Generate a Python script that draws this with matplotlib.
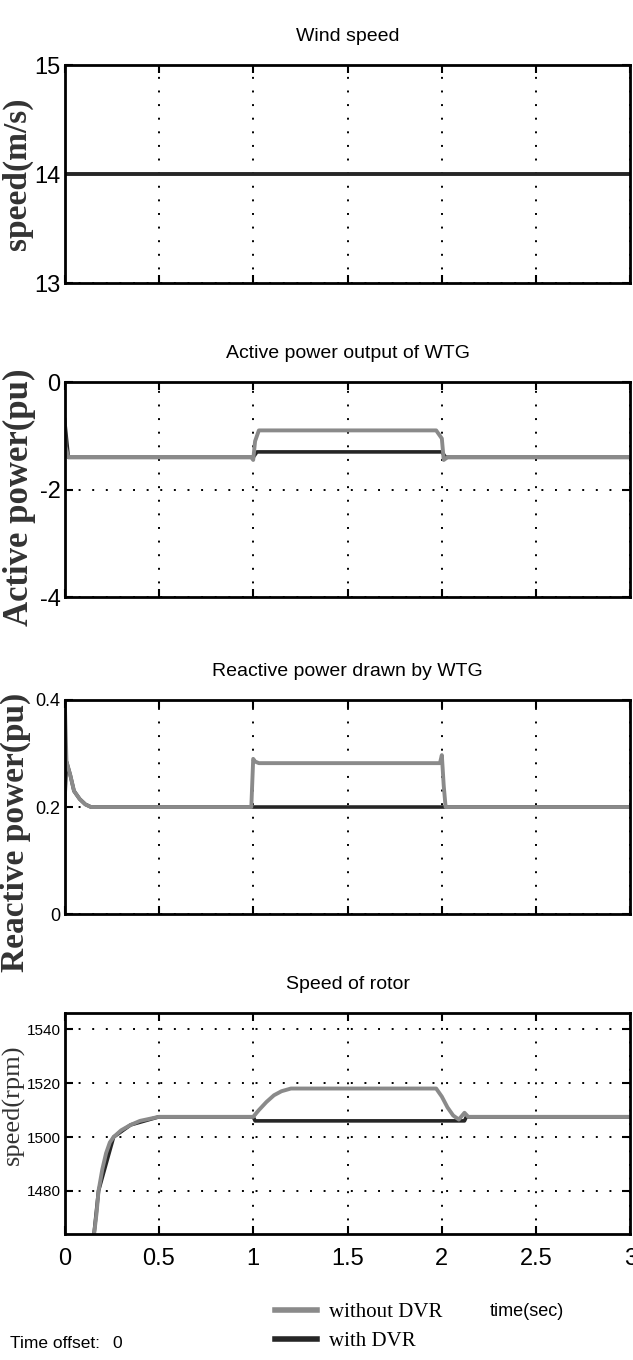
import matplotlib
matplotlib.use('Agg')
import matplotlib.pyplot as plt
from matplotlib.lines import Line2D

# wind speed (m/s)
t_wind = [0, 3]
wind = [14, 14]

# active power output of WTG (pu)
t_p_without = [0, 0.005, 0.02, 0.99, 1.0, 1.01, 1.03, 1.97, 2.0, 2.01, 2.03, 3]
p_without = [-0.7, -1.2, -1.4, -1.4, -1.45, -1.1, -0.9, -0.9, -1.05, -1.45, -1.4, -1.4]
t_p_with = [0, 0.02, 1.0, 1.02, 2.0, 2.02, 3]
p_with = [-0.7, -1.4, -1.4, -1.3, -1.3, -1.4, -1.4]

# reactive power drawn by WTG (pu)
t_q_without = [0, 0.001, 0.01, 0.03, 0.05, 0.08, 0.11, 0.14, 0.99, 1.0, 1.01,
               1.03, 1.99, 2.0, 2.01, 2.02, 3]
q_without = [0.2, 0.4, 0.285, 0.26, 0.23, 0.215, 0.205, 0.2, 0.2, 0.29, 0.285,
             0.282, 0.282, 0.297, 0.24, 0.2, 0.2]
t_q_with = [0, 0.01, 0.03, 0.05, 0.08, 0.11, 0.14, 3]
q_with = [0.2, 0.285, 0.26, 0.23, 0.215, 0.205, 0.2, 0.2]

# speed of rotor (rpm)
t_w_without = [0.15, 0.17, 0.18, 0.20, 0.22, 0.24, 0.26, 0.30, 0.35, 0.40, 0.50,
               1.0, 1.03, 1.07, 1.11, 1.15, 1.20, 1.97, 2.0, 2.03, 2.06, 2.09,
               2.12, 2.14, 3]
w_without = [1460, 1472, 1480, 1488, 1494, 1498, 1500, 1502.5, 1504.5, 1506, 1507.5,
             1507.5, 1510, 1513, 1515.5, 1517, 1518, 1518, 1515, 1511, 1508, 1506.5,
             1509, 1507.5, 1507.5]
t_w_with = [0.15, 0.18, 0.26, 0.35, 0.50, 1.0, 1.01, 2.12, 2.13, 3]
w_with = [1460, 1480, 1500, 1504.5, 1507.5, 1507.5, 1506, 1506, 1507.5, 1507.5]

xticks = [0, 0.5, 1, 1.5, 2, 2.5, 3]
xticklabels = ['0', '0.5', '1', '1.5', '2', '2.5', '3']

SANS = ['Liberation Sans Narrow', 'Liberation Sans', 'DejaVu Sans']
SERIF = ['Liberation Serif', 'DejaVu Serif']
GRAY = '#8a8a8a'
DARK = '#262626'

fig = plt.figure(figsize=(6.33, 13.6), dpi=100)
left, width = 0.102, 0.894
boxes = [(0.7919, 0.1603), (0.5610, 0.1581), (0.3279, 0.1574), (0.0926, 0.1625)]
axes = [fig.add_axes([left, b, width, h]) for b, h in boxes]


def scope_style(ax, title, ylabel, ylim, yticks, ytsize, label_y, label_x=-0.05,
                label_size=25, label_weight='bold'):
    ax.set_xlim(0, 3)
    ax.set_ylim(*ylim)
    ax.set_xticks(xticks)
    ax.set_yticks(yticks)
    ax.set_yticklabels([str(v) for v in yticks], fontsize=ytsize, family=SANS)
    ax.grid(True, linestyle=(0, (1, 6)), color='k', linewidth=1.4)
    ax.tick_params(direction='in', top=True, right=True, length=6, width=1.5, pad=3)
    ax.tick_params(axis='x', labelbottom=False)
    for s in ax.spines.values():
        s.set_linewidth(2.0)
    ax.set_title(title, fontsize=14, family=SANS, pad=17)
    ax.set_ylabel(ylabel, fontsize=label_size, family=SERIF, weight=label_weight,
                  color='#333333')
    ax.yaxis.set_label_coords(label_x, label_y)


ax1, ax2, ax3, ax4 = axes

ax1.plot(t_wind, wind, color=DARK, lw=2.8)
scope_style(ax1, 'Wind speed', 'speed(m/s)', (13, 15), [13, 14, 15], 17, 0.5,
            label_x=-0.055, label_size=24)

ax2.plot(t_p_with, p_with, color=DARK, lw=2.6)
ax2.plot(t_p_without, p_without, color=GRAY, lw=2.8)
scope_style(ax2, 'Active power output of WTG', 'Active power(pu)', (-4, 0),
            [-4, -2, 0], 17, 0.463)

ax3.plot(t_q_with, q_with, color=DARK, lw=2.6)
ax3.plot(t_q_without, q_without, color=GRAY, lw=2.8)
scope_style(ax3, 'Reactive power drawn by WTG', 'Reactive power(pu)', (0, 0.4),
            [0, 0.2, 0.4], 13, 0.383, label_x=-0.06, label_size=24)

ax4.plot(t_w_with, w_with, color=DARK, lw=2.6)
ax4.plot(t_w_without, w_without, color=GRAY, lw=2.8)
scope_style(ax4, 'Speed of rotor', 'speed(rpm)', (1464, 1546),
            [1480, 1500, 1520, 1540], 11, 0.584, label_x=-0.07, label_size=19,
            label_weight='normal')
ax4.tick_params(axis='x', labelbottom=True, labelsize=17, pad=10)
ax4.set_xticklabels(xticklabels, family=SANS)

handles = [Line2D([], [], color=GRAY, lw=4), Line2D([], [], color=DARK, lw=4)]
fig.legend(handles, ['without DVR', 'with DVR'], loc='center left',
           bbox_to_anchor=(275 / 633, 1 - 1327 / 1360), frameon=False,
           prop={'family': SERIF, 'size': 15}, handlelength=2.0,
           handletextpad=0.6, labelspacing=0.45, borderpad=0, borderaxespad=0)

fig.text(527 / 633, 1 - 1312 / 1360, 'time(sec)', ha='center', va='center',
         fontsize=13, family=SANS)
fig.text(10 / 633, 1 - 1343 / 1360, 'Time offset:', ha='left', va='center',
         fontsize=12.5, family=SANS)
fig.text(117 / 633, 1 - 1343 / 1360, '0', ha='center', va='center',
         fontsize=12.5, family=SANS)

fig.savefig('out.png', dpi=100)
